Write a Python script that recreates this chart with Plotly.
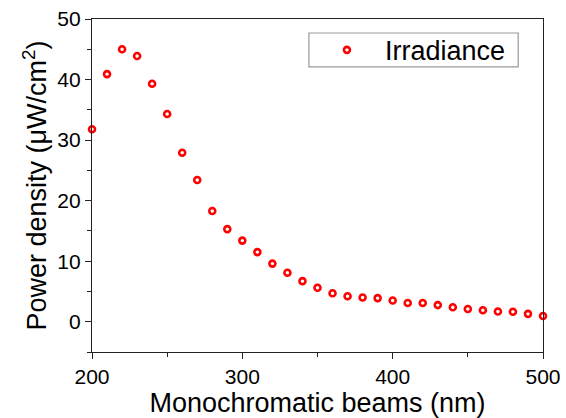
import plotly.graph_objects as go

wavelength = list(range(200, 501, 10))
irradiance = [31.8, 40.9, 45.0, 43.9, 39.3, 34.3, 27.9, 23.4, 18.3, 15.3,
              13.4, 11.5, 9.6, 8.1, 6.7, 5.6, 4.7, 4.2, 4.0, 3.9,
              3.5, 3.1, 3.1, 2.75, 2.4, 2.1, 1.9, 1.7, 1.65, 1.3, 0.95]

fig = go.Figure()
fig.add_trace(go.Scatter(
    x=wavelength, y=irradiance, mode="markers", name="Irradiance",
    marker=dict(symbol="circle", size=6, color="white",
                line=dict(color="#ff0000", width=2.6)),
    cliponaxis=False,
))

font = "Liberation Sans, Arial, sans-serif"


def axis_style(tick0, dtick, minor_dtick):
    return dict(
        showline=True, linecolor="#222222", linewidth=1.4, mirror=True,
        tickmode="linear", tick0=tick0, dtick=dtick,
        ticks="outside", ticklen=6, tickwidth=1.3, tickcolor="#222222",
        showgrid=False, zeroline=False, automargin=False,
        tickfont=dict(family=font, size=21, color="black"),
        minor=dict(ticks="outside", ticklen=4, tickwidth=1.1,
                   tickcolor="#222222", dtick=minor_dtick, showgrid=False),
    )


fig.update_xaxes(range=[200, 500],
                 title=dict(text="Monochromatic beams (nm)", standoff=0,
                            font=dict(family=font, size=27, color="black")),
                 **axis_style(200, 100, 50))
fig.update_yaxes(range=[-5, 50],
                 title=dict(text="Power density (\u03bcW/cm<sup>2</sup>)", standoff=2,
                            font=dict(family=font, size=27, color="black")),
                 **axis_style(0, 10, 5))

# legend frame
fig.add_shape(type="rect", xref="paper", yref="paper",
              x0=0.481, x1=0.945, y0=0.856, y1=0.958,
              line=dict(color="#999999", width=1.2), fillcolor="white", layer="below")

fig.update_layout(
    width=566, height=418,
    margin=dict(l=92, r=23, t=19, b=66),
    paper_bgcolor="white", plot_bgcolor="white",
    showlegend=True,
    legend=dict(x=0.481, y=0.906, xanchor="left", yanchor="middle",
                borderwidth=0, bgcolor="rgba(0,0,0,0)",
                itemwidth=66,
                font=dict(family=font, size=27, color="black")),
)
fig.write_html("out.html", config={"displayModeBar": False},
               post_script="document.body.style.margin='0';document.body.style.overflow='hidden';")
